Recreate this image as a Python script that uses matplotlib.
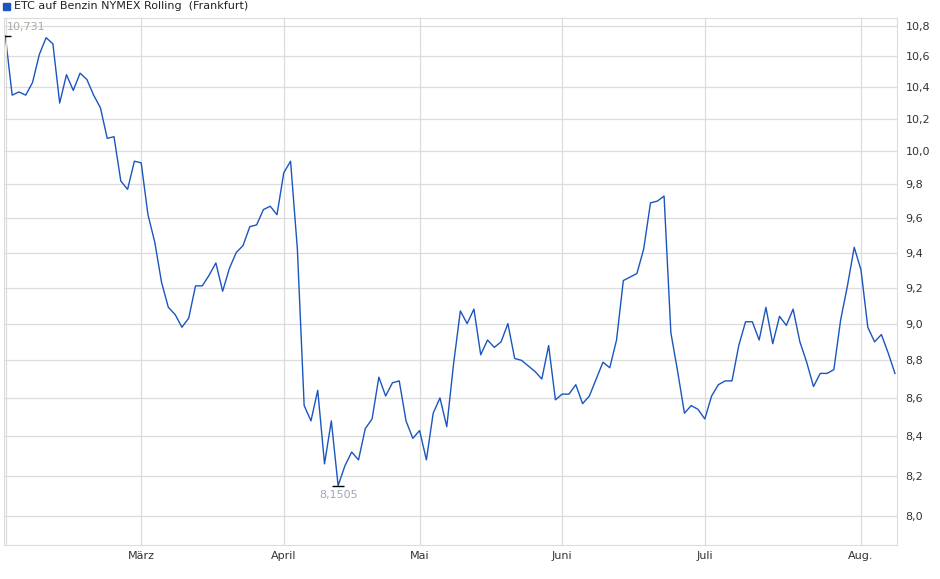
import numpy as np
import pandas as pd
import matplotlib
matplotlib.use("Agg")
import matplotlib.pyplot as plt
from matplotlib.ticker import FixedLocator, NullLocator

# ===========================
# Data
# ===========================

prices = [
    10.731, 10.35, 10.37, 10.35, 10.43, 10.61, 10.72, 10.68, 10.30, 10.48,
    10.38, 10.49, 10.45, 10.35, 10.27, 10.08, 10.09, 9.82, 9.77, 9.94,
    9.93, 9.62, 9.46, 9.23, 9.09, 9.05, 8.98, 9.03, 9.21, 9.21,
    9.27, 9.34, 9.18, 9.31, 9.40, 9.44, 9.55, 9.56, 9.65, 9.67,
    9.62, 9.87, 9.94, 9.42, 8.56, 8.48, 8.64, 8.26, 8.48, 8.1505,
    8.25, 8.32, 8.28, 8.44, 8.49, 8.71, 8.61, 8.68, 8.69, 8.48,
    8.39, 8.43, 8.28, 8.52, 8.60, 8.45, 8.78, 9.07, 9.00, 9.08,
    8.83, 8.91, 8.87, 8.90, 9.00, 8.81, 8.80, 8.77, 8.74, 8.70,
    8.88, 8.59, 8.62, 8.62, 8.67, 8.57, 8.61, 8.70, 8.79, 8.76,
    8.91, 9.24, 9.26, 9.28, 9.42, 9.69, 9.70, 9.73, 8.95, 8.74,
    8.52, 8.56, 8.54, 8.49, 8.61, 8.67, 8.69, 8.69, 8.88, 9.01,
    9.01, 8.91, 9.09, 8.89, 9.04, 8.99, 9.08, 8.90, 8.79, 8.66,
    8.73, 8.73, 8.75, 9.02, 9.21, 9.43, 9.30, 8.98, 8.90, 8.94,
    8.84, 8.73,
]

holidays = ["2025-04-18", "2025-04-21", "2025-05-01"]
month_names = ["März", "April", "Mai", "Juni", "Juli", "Aug."]
y_ticks = [8.0, 8.2, 8.4, 8.6, 8.8, 9.0, 9.2, 9.4, 9.6, 9.8, 10.0, 10.2, 10.4, 10.6, 10.8]
title = "ETC auf Benzin NYMEX Rolling  (Frankfurt)"

# trading days (Frankfurt), one per price
days = pd.bdate_range("2025-02-03", periods=len(prices) + 10)
days = days[~days.isin(pd.to_datetime(holidays))][:len(prices)]
x = np.arange(len(prices))

# first trading day of each month -> tick position
month_pos = [int(np.argmax(days.month == m)) for m in range(3, 9)]

# ===========================
# Plot
# ===========================

line_color = "#1a55c0"
grid_color = "#dcdcdc"

fig = plt.figure(figsize=(9.40, 5.79), dpi=100)
ax = fig.add_axes([4 / 940, 1 - 545 / 579, 893 / 940, 527 / 579])

ax.plot(x, prices, color=line_color, lw=1.0)

ax.set_yscale("log")
ax.set_ylim(7.86, 10.85)
ax.set_xlim(-0.2, len(prices) - 0.7)

ax.yaxis.set_major_locator(FixedLocator(y_ticks))
ax.yaxis.set_minor_locator(NullLocator())
ax.set_yticklabels([f"{t:.1f}".replace(".", ",") for t in y_ticks])
ax.yaxis.tick_right()
ax.set_xticks(month_pos)
ax.set_xticklabels(month_names)
ax.tick_params(axis="both", length=0, labelsize=8, colors="#333333", pad=4)
ax.tick_params(axis="y", pad=6)

ax.grid(True, color=grid_color, lw=0.9)
ax.set_axisbelow(True)
for s in ax.spines.values():
    s.set_color(grid_color)
ax.axvline(0.05, color=grid_color, lw=0.9)

# high / low markers
i_hi = int(np.argmax(prices))
i_lo = int(np.argmin(prices))
ax.plot(i_hi, prices[i_hi], marker="_", color="black", ms=8, mew=1)
ax.plot(i_lo, prices[i_lo], marker="_", color="black", ms=8, mew=1)
ax.annotate(f"{prices[i_hi]:.3f}".replace(".", ","), (i_hi, prices[i_hi]),
            xytext=(1, 3), textcoords="offset points", fontsize=8, color="#b0a8a0",
            ha="left", va="bottom")
ax.annotate(f"{prices[i_lo]:.4f}".replace(".", ","), (i_lo, prices[i_lo]),
            xytext=(0, -3), textcoords="offset points", fontsize=8, color="#9aa8bc",
            ha="center", va="top")

# legend
fig.patches.append(plt.Rectangle((3 / 940, 1 - 10 / 579), 7 / 940, 7 / 579,
                                 transform=fig.transFigure, color=line_color))
fig.text(14 / 940, 1 - 6 / 579, title, fontsize=8, color="#222222", va="center")

fig.savefig("out.png", dpi=100, facecolor="white")
